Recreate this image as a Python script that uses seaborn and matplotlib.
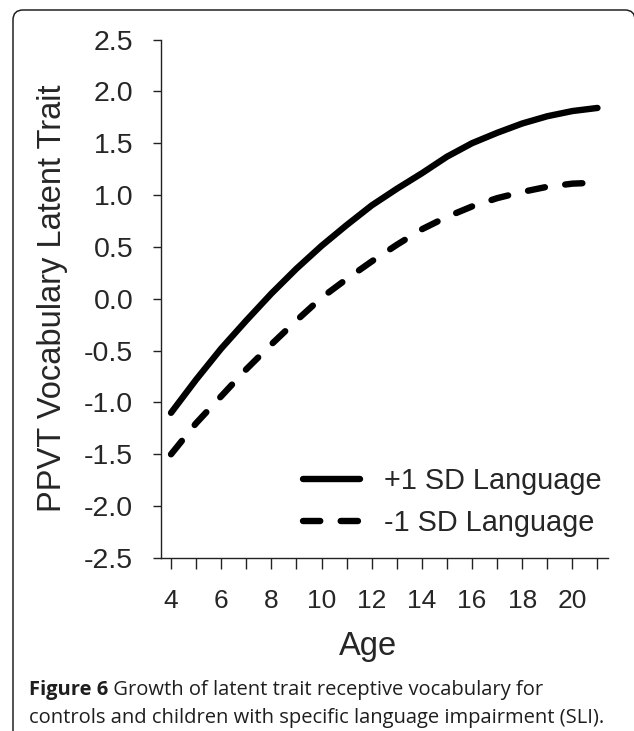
import pandas as pd
import seaborn as sns
from matplotlib import pyplot as plt
from matplotlib.patches import FancyBboxPatch
from matplotlib.transforms import IdentityTransform

ages = list(range(4, 22))
plus_sd = [-1.10, -0.78, -0.48, -0.21, 0.05, 0.29, 0.51, 0.71, 0.90,
           1.06, 1.21, 1.37, 1.50, 1.60, 1.69, 1.76, 1.81, 1.84]
minus_sd = [-1.50, -1.20, -0.94, -0.68, -0.44, -0.21, 0.01, 0.19, 0.36,
            0.52, 0.67, 0.79, 0.89, 0.97, 1.03, 1.08, 1.11, 1.12]
series_labels = ['+1 SD Language', '-1 SD Language']
y_ticks = [-2.5, -2.0, -1.5, -1.0, -0.5, 0.0, 0.5, 1.0, 1.5, 2.0, 2.5]
caption_bold = 'Figure 6'
caption_1 = ' Growth of latent trait receptive vocabulary for'
caption_2 = 'controls and children with specific language impairment (SLI).'

sns.set_style('ticks')
plt.rcParams['font.family'] = ['Liberation Sans', 'DejaVu Sans']
plt.rcParams['lines.solid_capstyle'] = 'round'
plt.rcParams['lines.dash_capstyle'] = 'round'

df_plus = pd.DataFrame({'age': ages, 'value': plus_sd})
df_minus = pd.DataFrame({'age': ages, 'value': minus_sd})

fig = plt.figure(figsize=(6.34, 7.31), dpi=100)
ax = fig.add_axes([161 / 634, 173 / 731, 447 / 634, 518.5 / 731])

sns.lineplot(data=df_plus, x='age', y='value', color='black', linewidth=4.6,
             label=series_labels[0], ax=ax)
sns.lineplot(data=df_minus, x='age', y='value', color='black', linewidth=4.6,
             linestyle=(0, (2.7, 3.2)), label=series_labels[1], ax=ax)

ax.set_xlim(3.6, 21.42)
ax.set_ylim(-2.5, 2.5)
ax.set_xticks(ages)
ax.set_xticklabels([str(a) if a % 2 == 0 and a <= 20 else '' for a in ages])
ax.set_yticks(y_ticks)
ax.set_yticklabels([f'{v:.1f}' for v in y_ticks])
sns.despine(ax=ax)
for side in ['left', 'bottom']:
    ax.spines[side].set_linewidth(1.0)
    ax.spines[side].set_color('#222222')
ax.tick_params(axis='y', length=6, width=1.0, color='#222222', pad=14,
               labelsize=20.5)
ax.tick_params(axis='x', length=8, width=1.0, color='#222222', pad=14,
               labelsize=19)
ax.set_xlabel('Age', fontsize=23.5)
ax.set_ylabel('PPVT Vocabulary Latent Trait', fontsize=23.5)
ax.xaxis.set_label_coords(0.463, -0.14)
ax.yaxis.set_label_coords(-0.207, 0.5)

ax.legend(loc='center left', bbox_to_anchor=(0.3177, 0.1076), frameon=False,
          fontsize=20.8, handlelength=1.97, handletextpad=0.85,
          labelspacing=0.5, borderpad=0, borderaxespad=0)

# rounded frame around the whole figure (runs off bottom and right)
frame = FancyBboxPatch((13, -60), 622, 781, boxstyle='round,pad=0,rounding_size=10',
                       transform=IdentityTransform(), facecolor='none',
                       edgecolor='#222222', linewidth=1.1)
fig.patches.append(frame)

cap_color = '#1e1e1e'
cap_size = 14.5
t_bold = fig.text(29 / 634, 1 - 695 / 731, caption_bold, fontsize=cap_size,
                  fontweight='bold', family='Open Sans', color=cap_color,
                  va='baseline', ha='left')
ax.annotate(caption_1, xy=(1, 0), xycoords=t_bold, va='bottom', ha='left',
            fontsize=cap_size, family='Open Sans', color=cap_color,
            annotation_clip=False)
fig.text(29 / 634, 1 - 722.7 / 731, caption_2, fontsize=cap_size,
         family='Open Sans', color=cap_color, va='baseline', ha='left')

plt.savefig('out.png', dpi=100)
plt.close()
